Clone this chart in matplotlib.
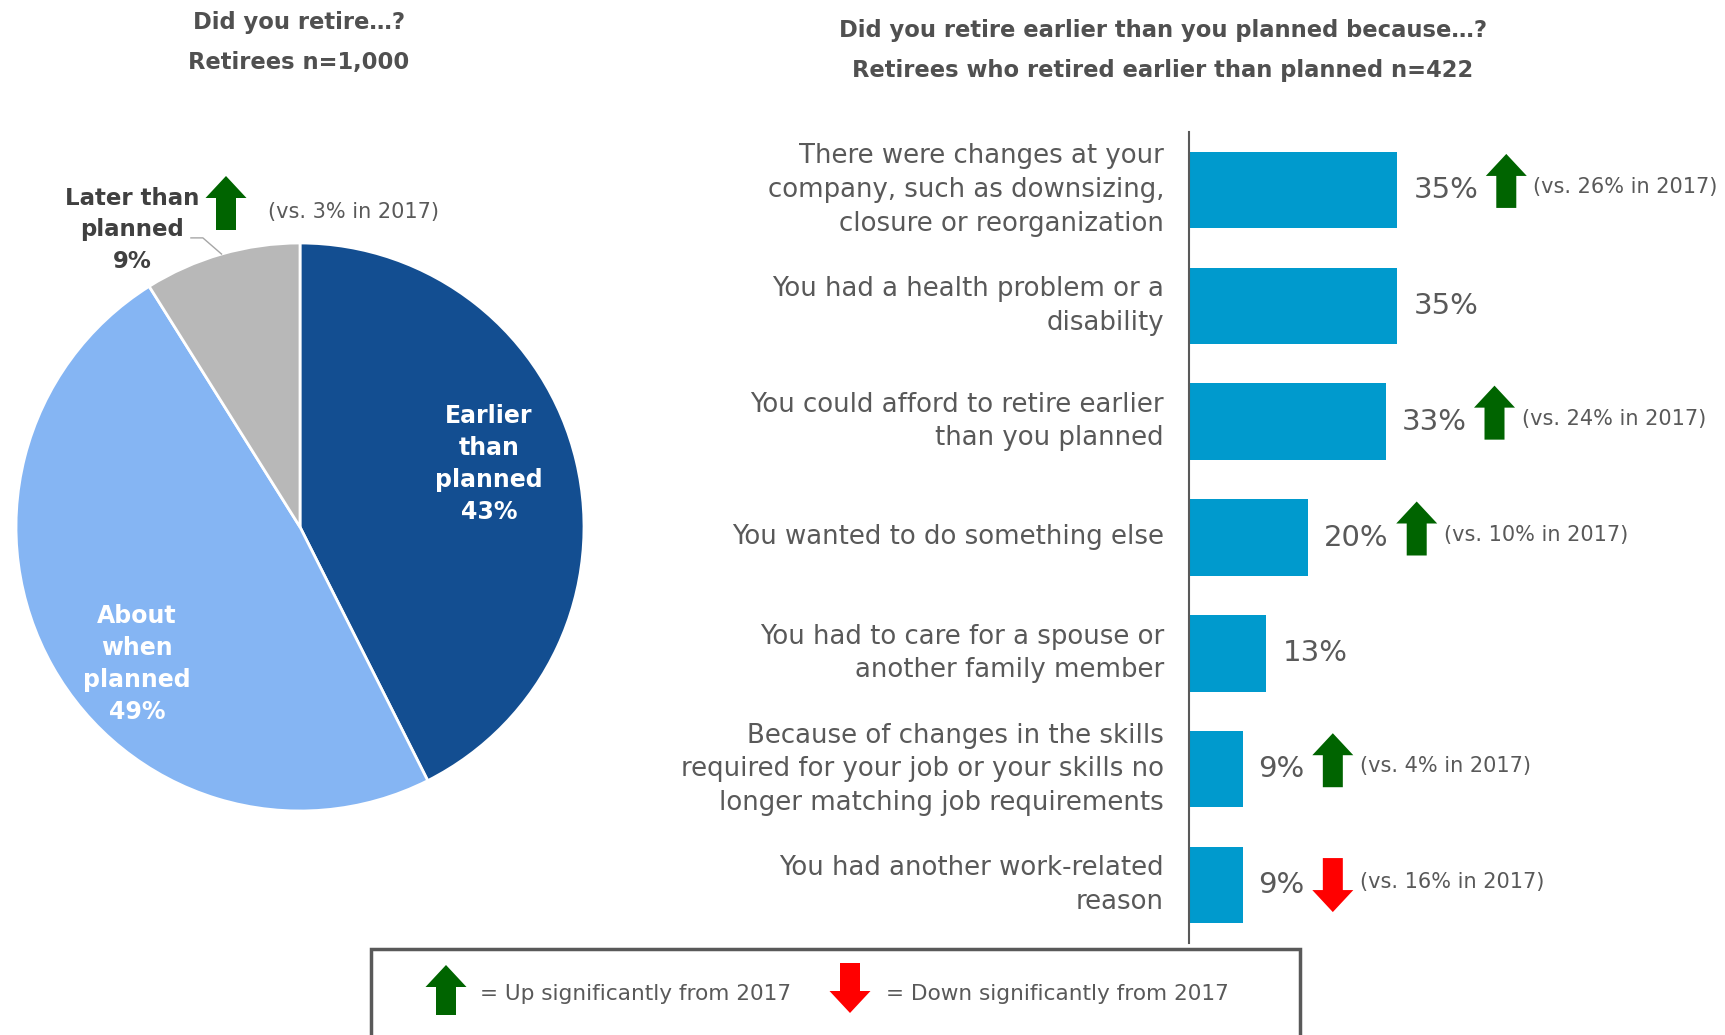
"""Retirement timing pie + reasons for early retirement bar chart."""

import matplotlib

matplotlib.use("Agg")
import matplotlib.pyplot as plt
import matplotlib.patches as mpatches
import matplotlib.transforms as mtransforms
import numpy as np


PIE_CATEGORIES = ["Earlier\nthan\nplanned", "About\nwhen\nplanned", "Later than\nplanned"]
PIE_SHARES = [43, 49, 9]
LATER_2017 = 3

REASONS = [
    "There were changes at your\ncompany, such as downsizing,\nclosure or reorganization",
    "You had a health problem or a\ndisability",
    "You could afford to retire earlier\nthan you planned",
    "You wanted to do something else",
    "You had to care for a spouse or\nanother family member",
    "Because of changes in the skills\nrequired for your job or your skills no\nlonger matching job requirements",
    "You had another work-related\nreason",
]
SHARES_2019 = [35, 35, 33, 20, 13, 9, 9]
SHARES_2017 = [26, None, 24, 10, None, 4, 16]

GREY_TEXT = "#595959"
TITLE_TEXT = "#505050"
BAR_BLUE = "#009ACD"
PIE_COLORS = ["#134E91", "#85B5F3", "#B8B8B8"]
UP_GREEN = "#006400"
DOWN_RED = "#FF0000"

W, H, DPI = 1725, 1035, 100


def fx(px):
    return px / W


def fy(py):
    # py measured from the top of the canvas
    return 1 - py / H


def draw_arrow(fig, cx, cy, up=True, height=54, width=41, shaft=20, head=22):
    """Block arrow centred on display pixel (cx, cy), origin bottom-left."""
    hh, hw, sw = height / 2, width / 2, shaft / 2
    pts = np.array([
        (-sw, -hh), (sw, -hh), (sw, hh - head), (hw, hh - head),
        (0, hh), (-hw, hh - head), (-sw, hh - head),
    ])
    if not up:
        pts[:, 1] *= -1
    pts += (cx, cy)
    poly = mpatches.Polygon(
        pts, closed=True, facecolor=UP_GREEN if up else DOWN_RED,
        edgecolor="none", transform=mtransforms.IdentityTransform(),
    )
    fig.add_artist(poly)


def main():
    fig = plt.figure(figsize=(W / DPI, H / DPI), dpi=DPI)

    # ---- pie ----
    pie_ax = fig.add_axes([0, fy(527 + 300), 600 / W, 600 / H])
    wedges, _ = pie_ax.pie(
        PIE_SHARES, colors=PIE_COLORS, startangle=90, counterclock=False,
        wedgeprops=dict(edgecolor="white", linewidth=2),
    )
    lim = 300 / 284
    pie_ax.set_xlim(-lim, lim)
    pie_ax.set_ylim(-lim, lim)

    inside_pos = [(0.665, 0.222), (-0.574, -0.482)]
    for i, (x, y) in enumerate(inside_pos):
        pie_ax.text(x, y, f"{PIE_CATEGORIES[i]}\n{PIE_SHARES[i]}%", ha="center",
                    va="center", color="white", fontsize=17, fontweight="bold",
                    linespacing=1.43)
    pie_ax.text(-0.592, 1.046, f"{PIE_CATEGORIES[2]}\n{PIE_SHARES[2]}%", ha="center",
                va="center", color="#404040", fontsize=16.5, fontweight="bold",
                linespacing=1.45)
    mid = np.deg2rad((wedges[2].theta1 + wedges[2].theta2) / 2)
    pie_ax.plot([-0.384, -0.342, np.cos(mid)], [1.018, 1.018, np.sin(mid)],
                color="#A6A6A6", lw=1, clip_on=False)

    draw_arrow(fig, 226, H - 203)
    fig.text(fx(268), fy(212), f"(vs. {LATER_2017}% in 2017)", ha="left",
             va="center", fontsize=15, color=GREY_TEXT)

    fig.text(fx(299), fy(22), "Did you retire…?", ha="center", va="center",
             fontsize=16.3, fontweight="bold", color=TITLE_TEXT)
    fig.text(fx(299), fy(63), "Retirees n=1,000", ha="center", va="center",
             fontsize=16.3, fontweight="bold", color=TITLE_TEXT)

    # ---- bars ----
    ax = fig.add_axes([fx(1189), fy(943), (W - 1189) / W, (943 - 132) / H])
    y = np.arange(len(REASONS))
    ax.barh(y, SHARES_2019, height=0.66, color=BAR_BLUE)
    ax.set_xlim(0, 90)
    ax.set_ylim(len(REASONS) - 0.5, -0.5)
    ax.set_yticks(y)
    ax.set_yticklabels(REASONS, fontsize=18.7, color=GREY_TEXT)
    for t in ax.get_yticklabels():
        t.set_linespacing(1.38)
        t.set_verticalalignment("center")
    ax.tick_params(axis="y", length=0, pad=18)
    ax.set_xticks([])
    for side in ("top", "right", "bottom"):
        ax.spines[side].set_visible(False)
    ax.spines["left"].set_color(GREY_TEXT)
    ax.spines["left"].set_linewidth(1.5)

    value_labels = []
    for i, v in enumerate(SHARES_2019):
        t = ax.annotate(f"{v}%", xy=(v, i), xytext=(11.5, 0),
                        textcoords="offset points", ha="left", va="center",
                        fontsize=21, color=GREY_TEXT)
        value_labels.append(t)

    fig.text(fx(1163), fy(31), "Did you retire earlier than you planned because…?",
             ha="center", va="center", fontsize=16.3, fontweight="bold", color=TITLE_TEXT)
    fig.text(fx(1163), fy(70), "Retirees who retired earlier than planned n=422",
             ha="center", va="center", fontsize=16.3, fontweight="bold", color=TITLE_TEXT)

    fig.canvas.draw()
    renderer = fig.canvas.get_renderer()
    for i, (now, before) in enumerate(zip(SHARES_2019, SHARES_2017)):
        if before is None:
            continue
        up = now > before
        bb = value_labels[i].get_window_extent(renderer)
        cy = ax.transData.transform((0, i))[1]
        cx = bb.x1 + 28
        draw_arrow(fig, cx, cy + (9 if up else 0), up=up)
        fig.text((cx + 27) / W, (cy + 3) / H, f"(vs. {before}% in 2017)",
                 ha="left", va="center", fontsize=15, color=GREY_TEXT)

    # ---- key box ----
    box = mpatches.Rectangle((fx(371), fy(1045)), fx(1300 - 371), (1045 - 949) / H,
                             transform=fig.transFigure, facecolor="none",
                             edgecolor=GREY_TEXT, linewidth=2.5, clip_on=False)
    fig.add_artist(box)
    draw_arrow(fig, 446, H - 990, up=True, height=50)
    fig.text(fx(480), fy(994), "= Up significantly from 2017", ha="left",
             va="center", fontsize=15.6, color=GREY_TEXT)
    draw_arrow(fig, 850, H - 988, up=False, height=50)
    fig.text(fx(886), fy(994), "= Down significantly from 2017", ha="left",
             va="center", fontsize=15.6, color=GREY_TEXT)

    fig.savefig("out.png", dpi=DPI)


if __name__ == "__main__":
    main()
